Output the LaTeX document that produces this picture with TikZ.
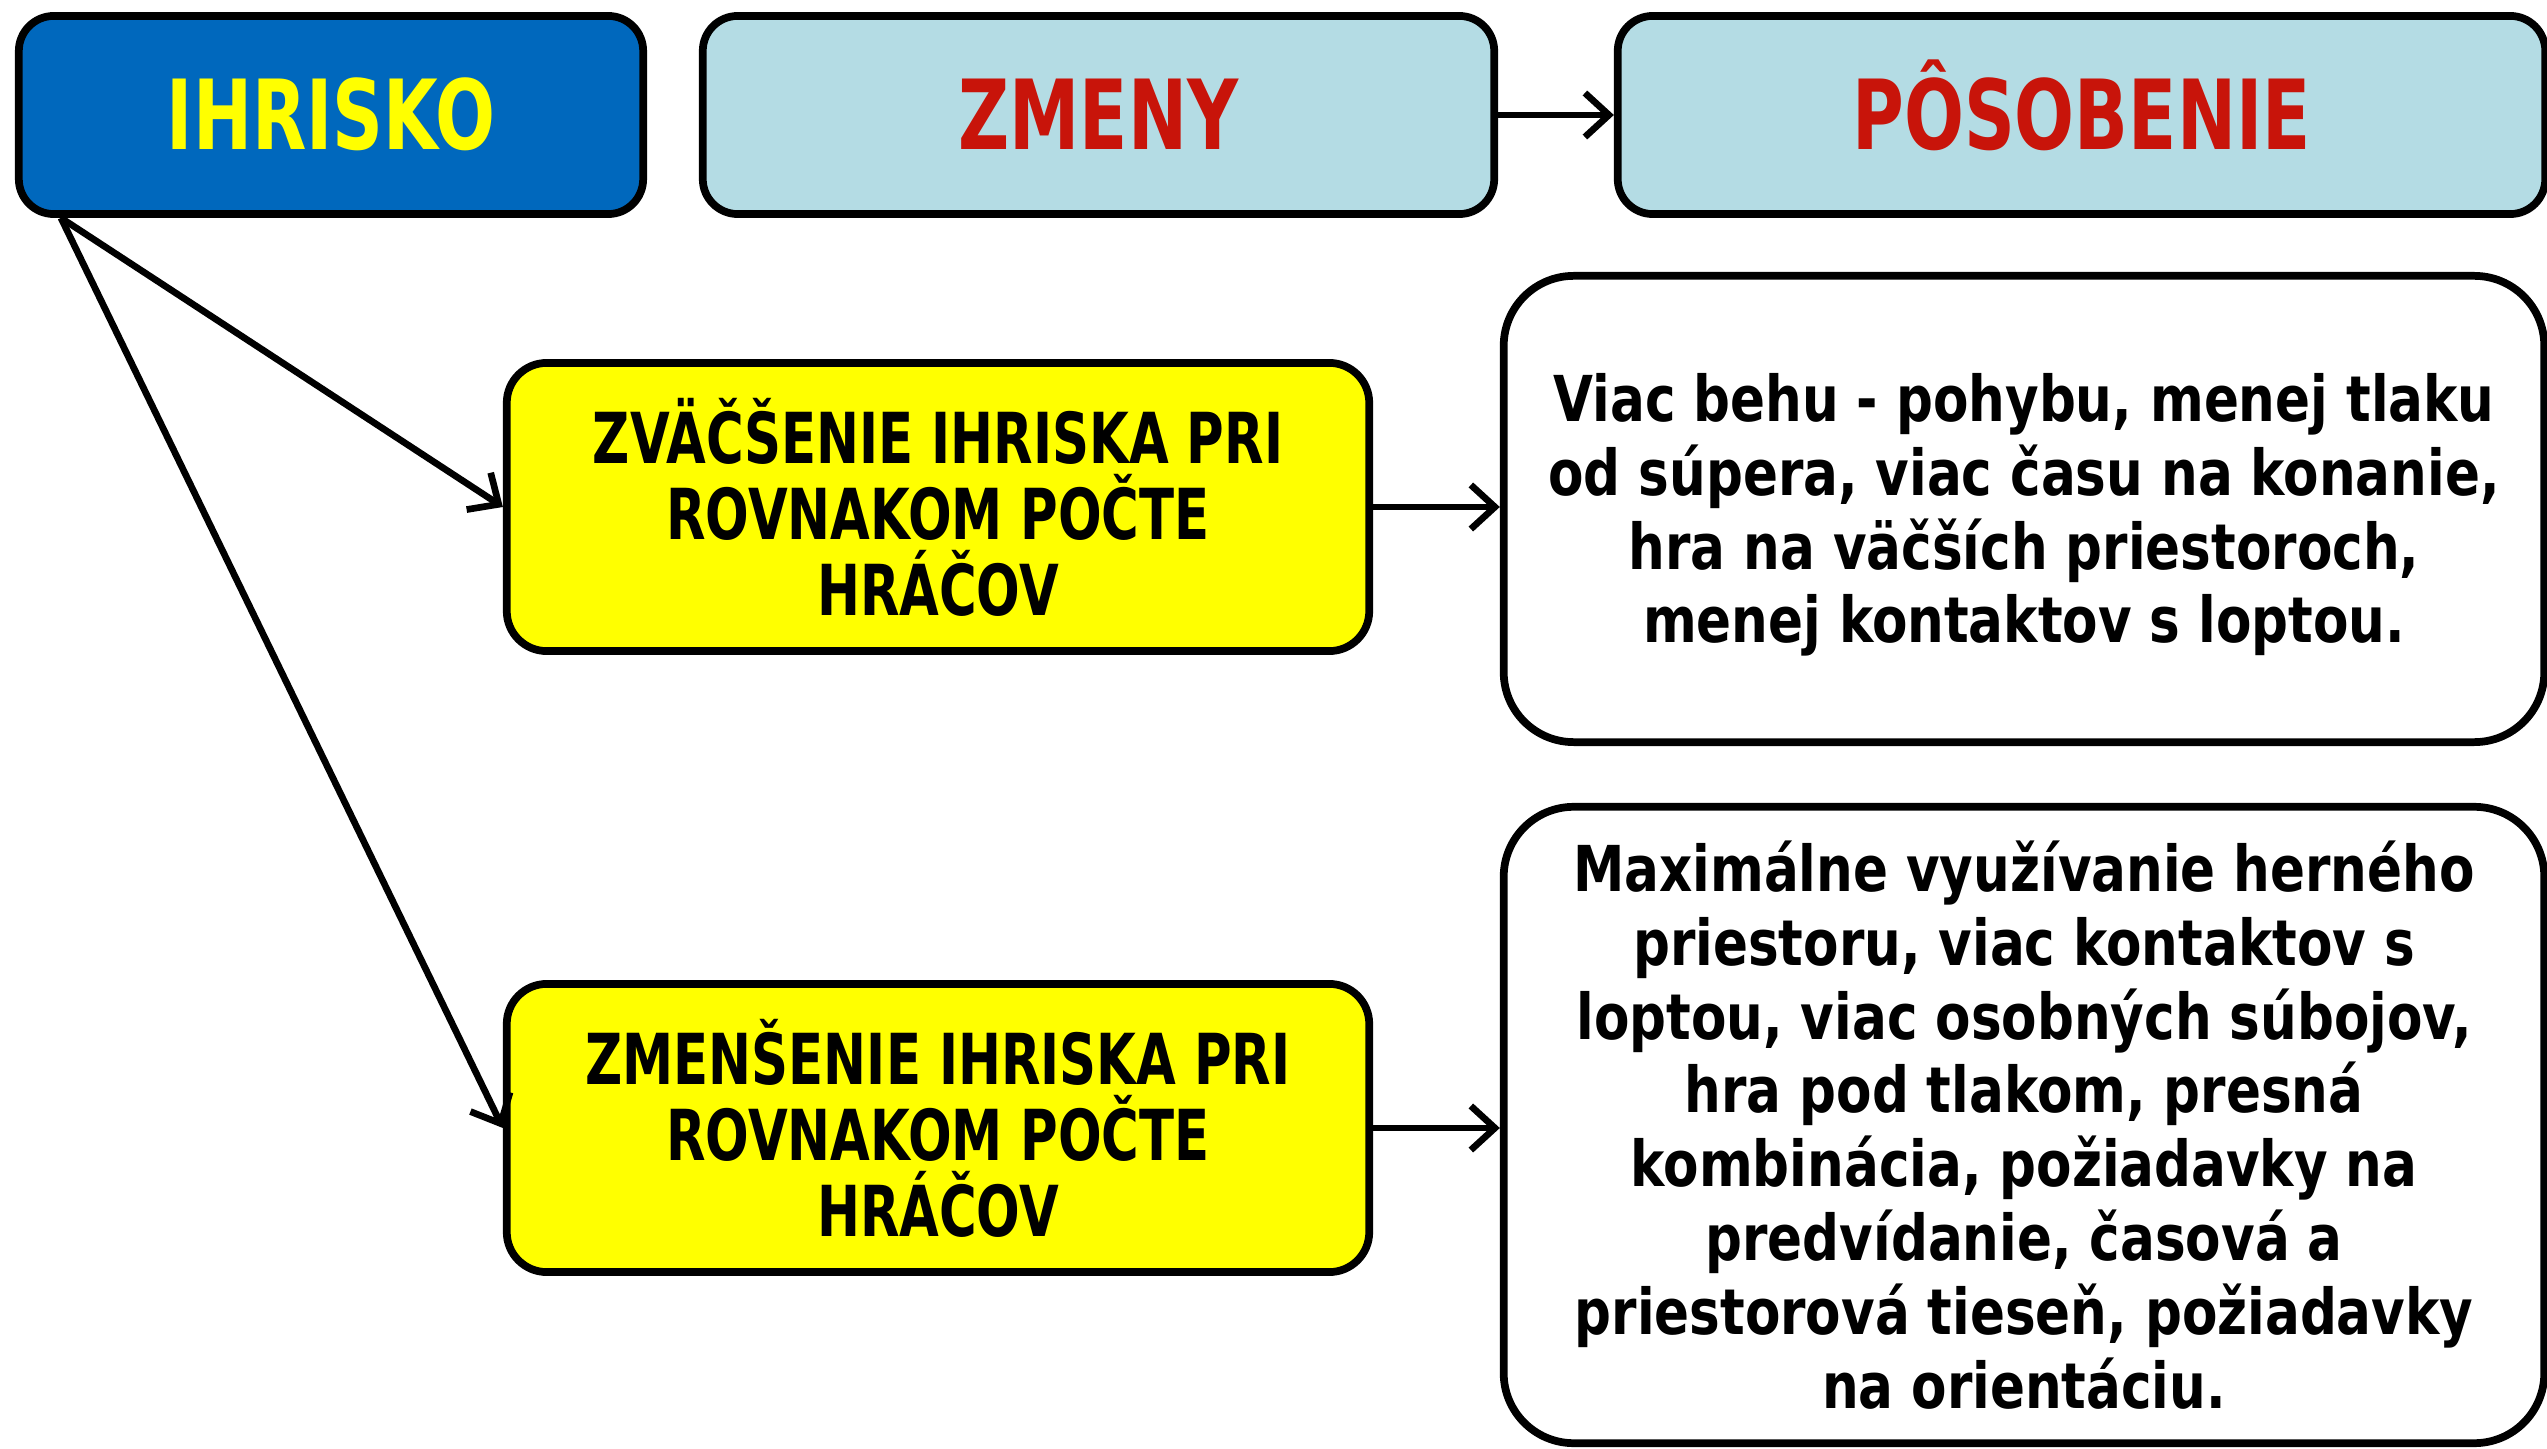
\documentclass[tikz,border=0pt]{standalone}
\usepackage{fontspec}
\newfontfamily\cf{DejaVu Sans}[FakeStretch=0.73]
\newfontfamily\cw{DejaVu Sans}[FakeStretch=0.815]
\usetikzlibrary{arrows.meta,calc}
\definecolor{hblue}{RGB}{0,104,189}
\definecolor{hlight}{RGB}{180,220,228}
\definecolor{hyellow}{RGB}{255,255,0}
\definecolor{hred}{RGB}{200,20,10}
\tikzset{
  box/.style={draw=black, line width=2.2pt, rounded corners=0.35cm, align=center, inner sep=0pt},
  headbox/.style={box, minimum height=1.98cm, text height=0.69cm, text depth=0pt,
     font=\cf\bfseries\fontsize{27.5}{30}\selectfont},
  ybox/.style={box, fill=hyellow, minimum width=8.62cm, minimum height=2.88cm, rounded corners=0.4cm,
     font=\cf\bfseries\fontsize{20}{21.6}\selectfont},
  wbox/.style={box, fill=white, minimum width=10.4cm, rounded corners=0.7cm,
     font=\cw\bfseries\fontsize{18}{21}\selectfont},
  conn/.style={line width=1.9pt, -{Straight Barb[length=0.24cm,width=0.44cm,line width=1.9pt]}},
}
\begin{document}
\begin{tikzpicture}[x=0.01cm, y=-0.01cm]
\useasboundingbox (0,0) rectangle (2547,1449);
\node[headbox, fill=hblue, minimum width=6.24cm, text=hyellow] (ih) at (331,115) {IHRISKO};
\node[headbox, fill=hlight, minimum width=7.91cm, text=hred] (zm) at (1098.5,115) {ZMENY};
\node[headbox, fill=hlight, minimum width=9.27cm, text=hred] (po) at (2081.5,115) {PÔSOBENIE};
\node[ybox] (y1) at (938,507) {ZVÄČŠENIE IHRISKA PRI\\ROVNAKOM POČTE\\HRÁČOV};
\node[ybox] (y2) at (938,1128) {ZMENŠENIE IHRISKA PRI\\ROVNAKOM POČTE\\HRÁČOV};
\node[wbox, minimum height=4.66cm] (w1) at (2024,509) {\rule{0pt}{0.6cm}Viac behu - pohybu, menej tlaku\\od súpera, viac času na konanie,\\hra na väčších priestoroch,\\menej kontaktov s loptou.};
\node[wbox, minimum height=6.36cm] (w2) at (2024,1125) {Maximálne využívanie herného\\priestoru, viac kontaktov s\\loptou, viac osobných súbojov,\\hra pod tlakom, presná\\kombinácia, požiadavky na\\predvídanie, časová a\\priestorová tieseň, požiadavky\\na orientáciu.};
\coordinate (ihs) at ($(ih.south west)+(46,0)$);
\draw[conn] (zm.east) -- (po.west);
\draw[conn] (ihs) -- (y1.west);
\draw[conn] (ihs) -- (y2.west);
\draw[conn] (y1.east) -- (y1.east -| w1.west);
\draw[conn] (y2.east) -- (y2.east -| w2.west);
\end{tikzpicture}
\end{document}
